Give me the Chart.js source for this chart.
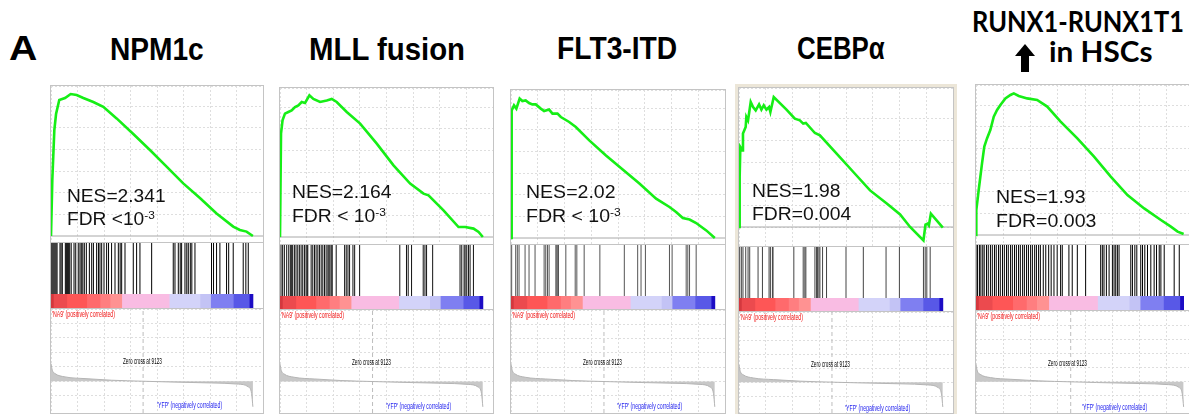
<!DOCTYPE html>
<html>
<head>
<meta charset="utf-8">
<script src="https://cdn.jsdelivr.net/npm/chart.js@4.4.1/dist/chart.umd.min.js"></script>
<style>
  html, body { margin: 0; padding: 0; background: #fff; }
  #fig { position: relative; width: 1189px; height: 414px; overflow: hidden; background: #fff; }
  .panel { position: absolute; border: 1px solid #c4c4c4; }
  .panel canvas { position: absolute; left: 0; }
  .sep { position: absolute; left: 0; height: 1px; background: #c4c4c4; }
  .txt { position: absolute; white-space: nowrap; line-height: 1.2; transform-origin: 0 0; }
  .bl { display: inline-block; width: 0; height: 0; }
  sup { font-size: 0.62em; line-height: 0; position: relative; top: -0.5em; vertical-align: baseline; }
  .arrowHead { position: absolute; width: 0; height: 0; border-left: 10px solid transparent; border-right: 10px solid transparent; border-bottom: 12px solid #000; }
  .arrowShaft { position: absolute; background: #000; }
</style>
</head>
<body>
<div id="fig"></div>
<script>
// ---------- données ----------
const rankListLength = 20000;
const zeroCross = 9123;

const panelTitles = ["NPM1c", "MLL fusion", "FLT3-ITD", "CEBPα"];
const lastTitleLines = ["RUNX1-RUNX1T1", "in HSCs"];
const nesLabels = ["NES=2.341", "NES=2.164", "NES=2.02", "NES=1.98", "NES=1.93"];
const fdrLabels = ["FDR <10", "FDR < 10", "FDR < 10", "FDR=0.004", "FDR=0.003"];
const fdrExponents = ["-3", "-3", "-3", "", ""];
const posLabel = "'NA9' (positively correlated)";
const negLabel = "'YFP' (negatively correlated)";
const zeroLabel = "Zero cross at " + zeroCross;

// score d'enrichissement : [rang, ES]
const esNPM1c = [[0,0],[130,0.28],[330,0.53],[500,0.61],[820,0.68],[1390,0.69],[1950,0.71],[2540,0.705],[3200,0.69],[4190,0.67],[5180,0.646],[6500,0.588],[8150,0.51],[9800,0.43],[11450,0.347],[13100,0.263],[14750,0.19],[16400,0.113],[18050,0.047],[18710,0.03],[19370,0.022],[20000,0]];
const esMLL = [[0,0],[100,0.517],[250,0.583],[490,0.617],[820,0.625],[1150,0.633],[1480,0.65],[1810,0.658],[2140,0.675],[2470,0.67],[2900,0.708],[3290,0.69],[3950,0.675],[4610,0.683],[5100,0.69],[5590,0.675],[6580,0.625],[7900,0.567],[9540,0.467],[11190,0.358],[12830,0.267],[14150,0.217],[14640,0.208],[16120,0.133],[17600,0.05],[18260,0.05],[19080,0.042],[19580,0.025],[20000,0]];
const esFLT3 = [[0,0],[65,0.638],[295,0.663],[525,0.647],[850,0.697],[1115,0.685],[1440,0.688],[1770,0.675],[2100,0.668],[2430,0.668],[2920,0.647],[3250,0.635],[3740,0.642],[4070,0.622],[4560,0.622],[4890,0.605],[5710,0.58],[6360,0.555],[7680,0.488],[9320,0.413],[10960,0.342],[12600,0.272],[14240,0.197],[15550,0.155],[16200,0.13],[16860,0.1],[17520,0.092],[18170,0.075],[19160,0.038],[20000,0]];
const esCEBPA = [[0,0],[65,0.25],[130,0.4],[330,0.383],[390,0.467],[655,0.5],[720,0.55],[885,0.533],[1150,0.625],[1380,0.6],[1640,0.583],[1970,0.613],[2200,0.587],[2430,0.608],[2690,0.587],[2950,0.6],[3080,0.575],[3410,0.65],[4660,0.587],[5480,0.542],[5970,0.533],[6300,0.517],[6560,0.52],[7450,0.47],[7940,0.458],[9580,0.367],[11220,0.275],[12860,0.183],[14500,0.117],[15810,0.063],[16790,0],[18100,-0.067],[18300,0.012],[18500,0.017],[18630,0.008],[18830,0.067],[20000,-0.003]];
const esRUNX1 = [[0,0],[30,0.125],[260,0.225],[580,0.358],[800,0.442],[1060,0.483],[1380,0.525],[1710,0.592],[2030,0.625],[2350,0.65],[2830,0.683],[3320,0.7],[3640,0.708],[4120,0.695],[4930,0.683],[5890,0.675],[6860,0.642],[8150,0.567],[9760,0.483],[11370,0.392],[12980,0.292],[14590,0.2],[16200,0.133],[17810,0.075],[18770,0.042],[19420,0.017],[20000,0.005]];

// rangs des gènes du set (traits verticaux)
const hitsNPM1c = [0,100,200,300,400,500,600,890,1000,1120,1420,1520,1620,1720,1850,2000,2280,2450,2700,2870,3000,3150,3300,3500,3800,4030,4200,4520,4700,4850,5020,5250,5510,5700,6000,6340,6670,6850,7000,7330,8150,8480,8810,9970,12110,12280,12610,12800,12940,13270,13450,13600,13800,13950,14260,15900,16100,16400,16730,17390,17600,18050,19040,19300,19540];
const hitsMLL = [100,260,430,660,860,1020,1150,1250,1420,1580,1750,1910,2080,2240,2410,2570,2670,2740,3070,3230,3400,3560,3730,3890,4060,4220,4390,4550,4720,4820,4920,5050,5150,5540,6370,6530,6700,6860,7190,7360,7850,11810,12470,12640,12970,14120,14290,14450,15050,17750,17920,18150,18250,18410,18580,18740,19070];
const hitsFLT3 = [65,460,620,790,1380,1770,2360,3250,3410,3580,3740,4400,4490,4590,4660,5380,6300,6460,7180,8720,11120,12430,12760,13190,15550,15810,17190,17350,17520,18170];
const hitsCEBPA = [65,230,390,660,890,1050,1870,2300,2950,3080,3280,3340,5380,6300,6460,6560,7450,7610,7710,7840,7940,8200,8590,10500,12200,14430,15740,18100,18270,18430,18760];
const hitsRUNX1 = [0,150,330,470,650,790,1010,1180,1390,1570,1780,1950,2170,2340,2550,2730,2940,3110,3330,3500,3710,3890,4100,4270,4490,4660,4870,5050,5260,5430,5650,5820,6030,6200,6480,6720,7000,7240,7510,7820,8150,8310,8950,9270,9760,10560,12010,12170,12330,12560,12820,13140,13300,13460,13620,13780,14910,15070,15300,15490,15870,16040,16260,16520,16840,17160,17390,17650,17810,18130,19090,19580];

// liste classée (métrique) commune aux 5 panneaux
const rankedPos = [0,130,400,1390,3370,6000,9123,11600,15900,18550,19540,19870,20000];
const rankedMetric = [1.22,0.76,0.53,0.3,0.18,0.07,0,-0.05,-0.12,-0.2,-0.39,-0.85,-1.77];

// limites des blocs de la barre de couleur (rangs)
const heatEdges = [0,230,1550,3530,4850,5840,7000,11700,14750,15800,18050,19630,20000];

// ---------- style / mise en page ----------
const heatPalette = ['#d4383e','#ec4a4e','#fe5656','#ff6a6c','#ff7e80','#ff9292','#f9bce3','#d3d3f9','#c3c3f5','#7f7ff1','#5858e7','#1c0cc4'];
const X_MAX = 21000;
const gridCol = '#dedede';
const RANK_MIN = -2.2, RANK_MAX = 5;
const FRAME_BOTTOM = 413;

const panels = [
  { es: esNPM1c, hits: hitsNPM1c, left: 51,  top: 86, w: 212, esH: 156, cbH: 14, yMin: -0.03,  yMax: 0.75,  hitCol: '#000', nes: { x: 67,  w: 99,  base: 201.5, base2: 225 } },
  { es: esMLL,   hits: hitsMLL,   left: 280, top: 88, w: 213, esH: 156, cbH: 13, yMin: -0.035, yMax: 0.745, hitCol: '#111', nes: { x: 292, w: 100, base: 198, base2: 222 } },
  { es: esFLT3,  hits: hitsFLT3,  left: 511, top: 90, w: 214, esH: 154, cbH: 13, yMin: -0.03,  yMax: 0.74,  hitCol: '#555', nes: { x: 526, w: 90,  base: 198, base2: 222 } },
  { es: esCEBPA, hits: hitsCEBPA, left: 739, top: 88, w: 214, esH: 158, cbH: 13, yMin: -0.095, yMax: 0.695, hitCol: '#444', nes: { x: 752, w: 89,  base: 197, base2: 220 }, beige: true },
  { es: esRUNX1, hits: hitsRUNX1, left: 976, top: 85, w: 218, esH: 159, cbH: 14, yMin: -0.045, yMax: 0.75,  hitCol: '#000', nes: { x: 996, w: 90,  base: 203, base2: 227 } }
];

const titlePos = [
  { x: 110, w: 94,  base: 59.5 },
  { x: 309, w: 156, base: 59.5 },
  { x: 557, w: 120, base: 58.5 },
  { x: 797, w: 88,  base: 59 }
];

const fig = document.getElementById('fig');

// texte placé sur sa ligne de base, largeur ajustée
function addText(parent, html, o) {
  const d = document.createElement('div');
  d.className = 'txt';
  d.style.font = o.font;
  d.style.color = o.color || '#000';
  d.innerHTML = html + '<span class="bl"></span>';
  parent.appendChild(d);
  const bl = d.querySelector('.bl').offsetTop;
  d.style.left = o.x + 'px';
  d.style.top = (o.base - bl) + 'px';
  let s = o.scale || 1;
  if (o.w) s = o.w / d.offsetWidth;
  d.style.transform = 'scaleX(' + s + ')';
  return s;
}

function hiddenAxis(min, max) {
  return { type: 'linear', min: min, max: max, display: false, offset: false };
}
function gridAxis(min, max, step) {
  return {
    type: 'linear', min: min, max: max, offset: false,
    ticks: { display: false, stepSize: step },
    grid: { drawTicks: false, color: gridCol, lineWidth: 1 },
    border: { display: false, dash: [2, 2] }
  };
}
const baseOpts = {
  responsive: false, animation: false, devicePixelRatio: 1, events: [],
  layout: { padding: 0 },
  plugins: { legend: { display: false }, tooltip: { enabled: false } }
};

function makeCanvas(parent, top, w, h) {
  const cv = document.createElement('canvas');
  cv.width = w; cv.height = h;
  cv.style.top = top + 'px';
  cv.style.width = w + 'px'; cv.style.height = h + 'px';
  parent.appendChild(cv);
  return cv;
}
function addSep(parent, top, w) {
  const s = document.createElement('div');
  s.className = 'sep';
  s.style.top = top + 'px';
  s.style.width = w + 'px';
  parent.appendChild(s);
}

const heatSegments = heatPalette.map((c, i) => ({
  data: [[heatEdges[i], heatEdges[i + 1]]],
  backgroundColor: c, borderWidth: 0, inflateAmount: 0.4,
  barPercentage: 1, categoryPercentage: 1, grouped: false
}));

panels.forEach((p, i) => {
  const box = document.createElement('div');
  box.className = 'panel';
  box.style.left = (p.left - 1) + 'px';
  box.style.top = (p.top - 1) + 'px';
  box.style.width = p.w + 'px';
  const innerH = FRAME_BOTTOM - p.top;
  box.style.height = innerH + 'px';
  if (p.beige) box.style.boxShadow = '0 0 0 3px #ece6d8';
  fig.appendChild(box);

  // score d'enrichissement
  const esCv = makeCanvas(box, 0, p.w, p.esH);
  new Chart(esCv, {
    type: 'line',
    data: { datasets: [
      { data: p.es.map(v => ({ x: v[0], y: v[1] })), borderColor: '#16ee16', borderWidth: 2.6, pointRadius: 0, tension: 0 },
      { data: [{ x: 0, y: 0 }, { x: X_MAX, y: 0 }], borderColor: '#a8a8a8', borderWidth: 1, pointRadius: 0 }
    ] },
    options: Object.assign({}, baseOpts, {
      scales: { x: gridAxis(0, X_MAX, 2500), y: gridAxis(p.yMin, p.yMax, 0.108) }
    })
  });
  addSep(box, p.esH, p.w);

  // traits des gènes
  const hitsTop = p.esH + 1, hitsH = 51;
  const hitCv = makeCanvas(box, hitsTop, p.w, hitsH);
  new Chart(hitCv, {
    type: 'bar',
    data: { datasets: [{ data: p.hits.map(r => ({ x: r, y: 1 })), backgroundColor: p.hitCol, barThickness: 1, inflateAmount: 0, borderWidth: 0 }] },
    options: Object.assign({}, baseOpts, { scales: { x: hiddenAxis(0, X_MAX), y: hiddenAxis(0, 1) } })
  });

  // barre de couleur
  const cbTop = hitsTop + hitsH;
  const cbCv = makeCanvas(box, cbTop, p.w, p.cbH);
  new Chart(cbCv, {
    type: 'bar',
    data: { labels: [''], datasets: heatSegments },
    options: Object.assign({}, baseOpts, {
      indexAxis: 'y',
      scales: { x: hiddenAxis(0, X_MAX), y: { type: 'category', display: false } }
    })
  });
  addSep(box, cbTop + p.cbH, p.w);

  // liste classée
  const rkTop = cbTop + p.cbH + 1;
  const rkH = innerH - rkTop;
  const rkCv = makeCanvas(box, rkTop, p.w, rkH);
  new Chart(rkCv, {
    type: 'line',
    data: { datasets: [
      { data: rankedPos.map((r, k) => ({ x: r, y: rankedMetric[k] })), borderColor: '#b4b4b4', backgroundColor: '#c8c8c8', borderWidth: 1, fill: 'origin', pointRadius: 0, tension: 0.3, cubicInterpolationMode: 'monotone' },
      { data: [{ x: zeroCross, y: RANK_MIN }, { x: zeroCross, y: RANK_MAX }], borderColor: '#bdbdbd', borderWidth: 1, borderDash: [4, 3], pointRadius: 0 }
    ] },
    options: Object.assign({}, baseOpts, {
      scales: { x: gridAxis(0, X_MAX, 2500), y: gridAxis(RANK_MIN, RANK_MAX, 1) }
    })
  });

  // textes
  const pageRk = p.top + rkTop;
  const tiny = '8.5px "Liberation Sans", Arial';
  addText(fig, posLabel, { x: p.left + 1, base: pageRk + 7.5, w: 63, font: tiny, color: '#f01010' });
  addText(fig, zeroLabel, { x: p.left + 72, base: pageRk + 55, w: 39, font: tiny, color: '#000' });
  addText(fig, negLabel, { x: p.left + 106, base: pageRk + 99, w: 65, font: tiny, color: '#2222ee' });

  const s = addText(fig, nesLabels[i], { x: p.nes.x, base: p.nes.base, w: p.nes.w, font: '18px "Liberation Sans", Arial', color: '#111' });
  const fdr = fdrLabels[i] + (fdrExponents[i] ? '<sup>' + fdrExponents[i] + '</sup>' : '');
  addText(fig, fdr, { x: p.nes.x, base: p.nes.base2, scale: s, font: '18px "Liberation Sans", Arial', color: '#111' });
});

// titres
addText(fig, 'A', { x: 9, base: 60, w: 28, font: 'bold 35px "Liberation Sans", Arial' });
panelTitles.forEach((t, i) => {
  const tp = titlePos[i];
  addText(fig, t, { x: tp.x, base: tp.base, w: tp.w, font: 'bold 32px "Liberation Sans", Arial' });
});
addText(fig, lastTitleLines[0], { x: 972, base: 31.7, w: 212, font: 'bold 28px Lato, "Open Sans", sans-serif' });
addText(fig, lastTitleLines[1], { x: 1049, base: 61.7, w: 103, font: 'bold 28px Lato, "Open Sans", sans-serif' });

// flèche
const head = document.createElement('div');
head.className = 'arrowHead';
head.style.left = '1015px'; head.style.top = '44px';
fig.appendChild(head);
const shaft = document.createElement('div');
shaft.className = 'arrowShaft';
shaft.style.left = '1021px'; shaft.style.top = '56px';
shaft.style.width = '8px'; shaft.style.height = '16px';
fig.appendChild(shaft);
</script>
</body>
</html>
